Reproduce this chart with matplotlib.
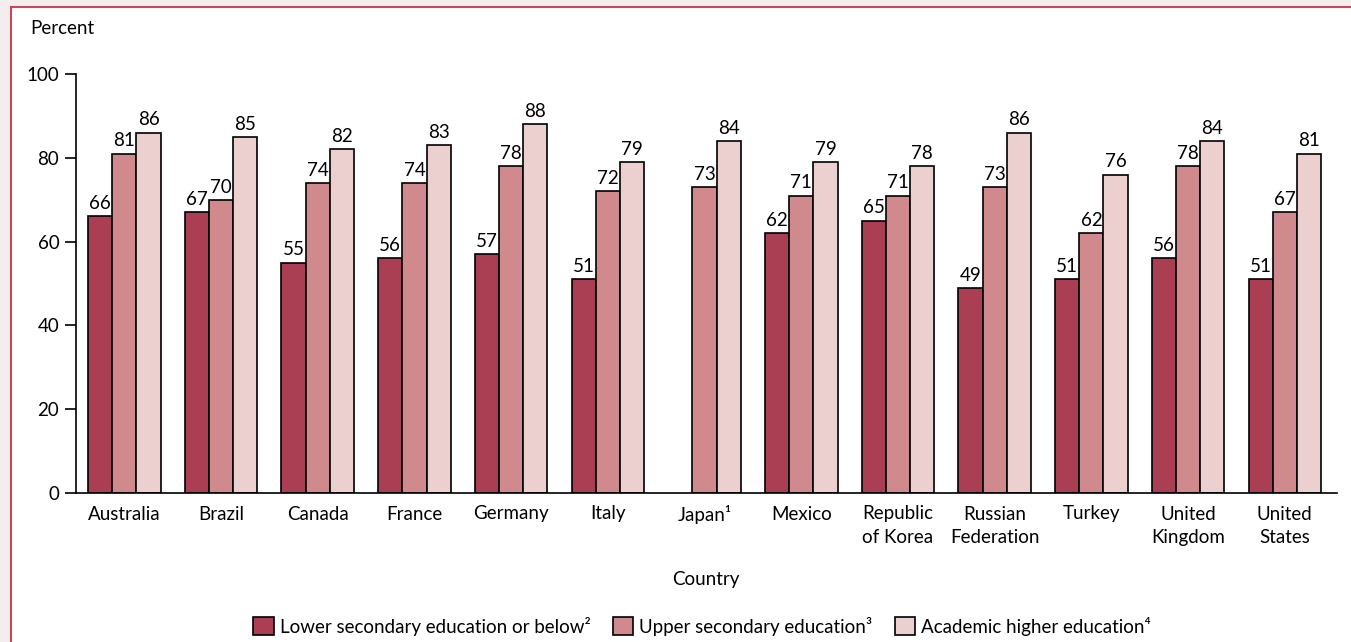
import matplotlib
matplotlib.use('Agg')
import matplotlib.pyplot as plt
from matplotlib.patches import Rectangle, Patch
import numpy as np

countries = ['Australia', 'Brazil', 'Canada', 'France', 'Germany', 'Italy', 'Japan¹',
             'Mexico', 'Republic\nof Korea', 'Russian\nFederation', 'Turkey',
             'United\nKingdom', 'United\nStates']
lower_secondary = [66, 67, 55, 56, 57, 51, None, 62, 65, 49, 51, 56, 51]
upper_secondary = [81, 70, 74, 74, 78, 72, 73, 71, 71, 73, 62, 78, 67]
academic_higher = [86, 85, 82, 83, 88, 79, 84, 79, 78, 86, 76, 84, 81]

series_names = ['Lower secondary education or below²',
                'Upper secondary education³',
                'Academic higher education⁴']
colors = ['#aa3e52', '#d08a8d', '#ecd0d0']

plt.rcParams['font.family'] = ['Lato', 'DejaVu Sans']
plt.rcParams['font.size'] = 13.5

fig = plt.figure(figsize=(13.51, 6.42), dpi=100)
fig.patch.set_facecolor('#f3eded')
# white panel with red border, running off the right and bottom edges
fig.patches.append(Rectangle((11 / 1351, -0.05), 1.1, 0.05 + 1 - 7 / 642,
                             transform=fig.transFigure, facecolor='white',
                             edgecolor='#c9475b', linewidth=1.5, zorder=-10))

ax = fig.add_axes([76 / 1351, 1 - 493 / 642, (1337 - 76) / 1351, (493 - 74) / 642])
ax.set_facecolor('none')

x = np.arange(len(countries))
w = 0.25
all_series = [lower_secondary, upper_secondary, academic_higher]
for i, (vals, c) in enumerate(zip(all_series, colors)):
    heights = [np.nan if v is None else v for v in vals]
    bars = ax.bar(x + (i - 1) * w, heights, w, color=c, edgecolor='black', linewidth=1.2)
    labels = ['' if v is None else str(v) for v in vals]
    ax.bar_label(bars, labels=labels, padding=3)

ax.set_xlim(-0.5, 12.54)
ax.set_ylim(0, 100)
ax.set_yticks(range(0, 101, 20))
ax.set_xticks(x)
ax.set_xticklabels(countries, linespacing=1.45)
ax.tick_params(axis='x', length=0, pad=9)
ax.tick_params(axis='y', length=8, width=1.2, pad=4)
for s in ['top', 'right']:
    ax.spines[s].set_visible(False)
for s in ['left', 'bottom']:
    ax.spines[s].set_linewidth(1.2)

fig.text(30 / 1351, 1 - 28 / 642, 'Percent', va='center', ha='left')
fig.text(706 / 1351, 1 - 580 / 642, 'Country', va='center', ha='center')

handles = [Patch(facecolor=c, edgecolor='black', linewidth=1.2) for c in colors]
fig.legend(handles, series_names, loc='center', bbox_to_anchor=(702 / 1351, 1 - 626 / 642),
           ncol=3, frameon=False, handlelength=1.1, handleheight=1.1,
           handletextpad=0.3, columnspacing=1.2)

fig.savefig('out.png', dpi=100, facecolor=fig.get_facecolor())
